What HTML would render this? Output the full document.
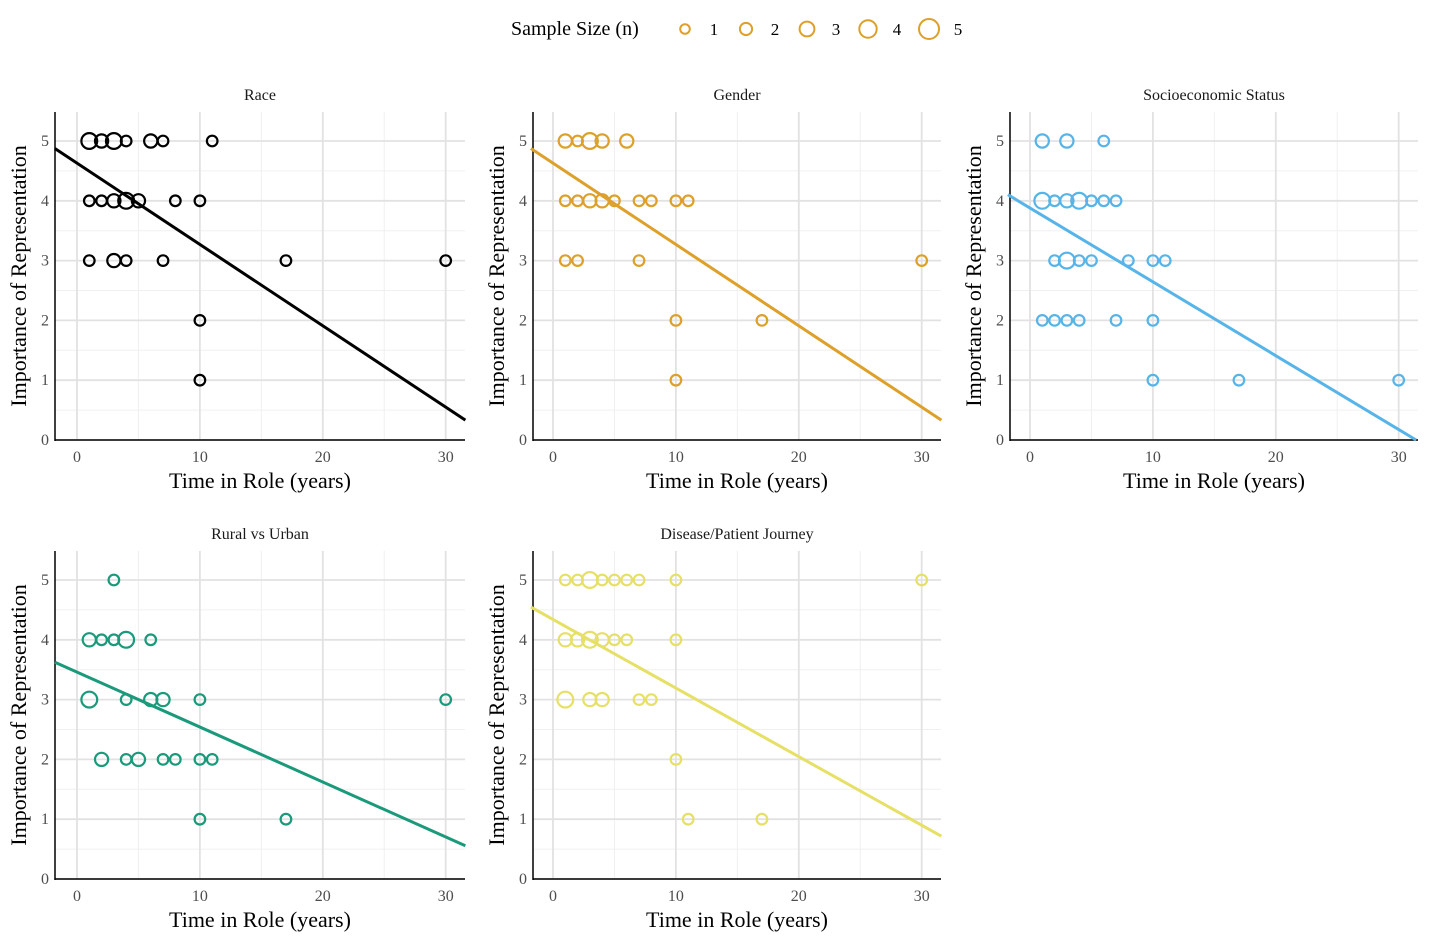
<!DOCTYPE html>
<html><head><meta charset="utf-8"><style>
body{margin:0;background:#fff;}
svg{display:block;font-family:"Liberation Serif",serif;}
</style></head><body>
<svg id="chart" width="1430" height="944" viewBox="0 0 1430 944"></svg>
<script>
const panelTitles=["Race","Gender","Socioeconomic Status","Rural vs Urban","Disease/Patient Journey"];
const panelColors=["#000000","#DDA02A","#56B4E9","#1A9A7A","#E6E066"];
// points: [time, importance, n]
const racePts=[[1,5,3],[2,5,2],[3,5,3],[4,5,1],[6,5,2],[7,5,1],[11,5,1],[1,4,1],[2,4,1],[3,4,2],[4,4,3],[5,4,2],[8,4,1],[10,4,1],[1,3,1],[3,3,2],[4,3,1],[7,3,1],[17,3,1],[30,3,1],[10,2,1],[10,1,1]];
const genderPts=[[1,5,2],[2,5,1],[3,5,3],[4,5,2],[6,5,2],[1,4,1],[2,4,1],[3,4,2],[4,4,2],[5,4,1],[7,4,1],[8,4,1],[10,4,1],[11,4,1],[1,3,1],[2,3,1],[7,3,1],[30,3,1],[10,2,1],[17,2,1],[10,1,1]];
const sesPts=[[1,5,2],[3,5,2],[6,5,1],[1,4,3],[2,4,1],[3,4,2],[4,4,3],[5,4,1],[6,4,1],[7,4,1],[2,3,1],[3,3,3],[4,3,1],[5,3,1],[8,3,1],[10,3,1],[11,3,1],[1,2,1],[2,2,1],[3,2,1],[4,2,1],[7,2,1],[10,2,1],[10,1,1],[17,1,1],[30,1,1]];
const ruralPts=[[3,5,1],[1,4,2],[2,4,1],[3,4,1],[4,4,3],[6,4,1],[1,3,3],[4,3,1],[6,3,2],[7,3,2],[10,3,1],[30,3,1],[2,2,2],[4,2,1],[5,2,2],[7,2,1],[8,2,1],[10,2,1],[11,2,1],[10,1,1],[17,1,1]];
const diseasePts=[[1,5,1],[2,5,1],[3,5,3],[4,5,1],[5,5,1],[6,5,1],[7,5,1],[10,5,1],[30,5,1],[1,4,2],[2,4,2],[3,4,3],[4,4,2],[5,4,1],[6,4,1],[10,4,1],[1,3,3],[3,3,2],[4,3,2],[7,3,1],[8,3,1],[10,2,1],[11,1,1],[17,1,1]];
const intercepts=[4.63,4.63,3.88,3.46,4.34];
const slopes=[-0.136,-0.136,-0.1235,-0.0919,-0.1147];
const xTicks=[0,10,20,30];
const yTicks=[0,1,2,3,4,5];
const legendSizes=[1,2,3,4,5];
const allPts=[racePts,genderPts,sesPts,ruralPts,diseasePts];

const NS="http://www.w3.org/2000/svg";
const svg=document.getElementById('chart');
function mk(tag,attrs,parent){const e=document.createElementNS(NS,tag);for(const k in attrs)e.setAttribute(k,attrs[k]);(parent||svg).appendChild(e);return e;}
function rad(n){return 4+1.3*n;}
const panels=[{l:55,r:465,t:112,b:440,x0:77},{l:533,r:941,t:112,b:440,x0:553},{l:1010,r:1418,t:112,b:440,x0:1030},{l:55,r:465,t:551,b:879,x0:77},{l:533,r:941,t:551,b:879,x0:553}];
const pxYr=12.29, pxUnit=59.8, xMin=-1.8, xMax=31.6;

const lg=mk('g',{});


const lt=mk('text',{x:511,y:35,'font-size':20,fill:'#000'},lg);lt.textContent='Sample Size (n)';


legendSizes.forEach((n,i)=>{
  const cx=685+i*61;
  const c=mk('circle',{cx:cx,cy:29,r:rad(n)-0.5,fill:'none',stroke:'#DDA02A','stroke-width':2},lg);
  
  
  const t=mk('text',{x:cx+29,y:35,'font-size':17,fill:'#000','text-anchor':'middle'},lg);t.textContent=n;
});

panels.forEach((p,pi)=>{
  const g=mk('g',{});
  
  
  const sx=v=>p.x0+v*pxYr, sy=v=>p.b-v*pxUnit;
  [5,15,25].forEach(v=>mk('line',{x1:sx(v),x2:sx(v),y1:p.t,y2:p.b,stroke:'#f0f0f0','stroke-width':1},g));
  [0.5,1.5,2.5,3.5,4.5].forEach(v=>mk('line',{x1:p.l,x2:p.r,y1:sy(v),y2:sy(v),stroke:'#f0f0f0','stroke-width':1},g));
  xTicks.forEach(v=>{mk('line',{x1:sx(v),x2:sx(v),y1:p.t,y2:p.b,stroke:'#e2e2e2','stroke-width':1.8},g);
    const t=mk('text',{x:sx(v),y:p.b+22,'font-size':16,fill:'#4d4d4d','text-anchor':'middle'},g);t.textContent=v;});
  yTicks.forEach(v=>{mk('line',{x1:p.l,x2:p.r,y1:sy(v),y2:sy(v),stroke:'#e2e2e2','stroke-width':1.8},g);
    const t=mk('text',{x:p.l-6,y:sy(v)+5,'font-size':16,fill:'#4d4d4d','text-anchor':'end'},g);t.textContent=v;});
  mk('line',{x1:p.l,x2:p.l,y1:p.t,y2:p.b+1,stroke:'#000','stroke-width':1.5},g);
  mk('line',{x1:p.l,x2:p.r,y1:p.b,y2:p.b,stroke:'#000','stroke-width':1.5},g);
  const tt=mk('text',{x:(p.l+p.r)/2,y:p.t-12,'font-size':16,fill:'#1a1a1a','text-anchor':'middle'},g);tt.textContent=panelTitles[pi];
  
  
  const xt=mk('text',{x:(p.l+p.r)/2,y:p.b+48,'font-size':22,fill:'#000','text-anchor':'middle'},g);xt.textContent='Time in Role (years)';
  
  
  const yc=(p.t+p.b)/2;
  const yt=mk('text',{x:p.l-29,y:yc,'font-size':22,fill:'#000','text-anchor':'middle',transform:`rotate(-90 ${p.l-29} ${yc})`},g);yt.textContent='Importance of Representation';
  
  
  const col=panelColors[pi];
  allPts[pi].forEach(d=>{
    const c=mk('circle',{cx:sx(d[0]),cy:sy(d[1]),r:rad(d[2]),fill:'none',stroke:col,'stroke-width':2.2},g);
    
    
  });
  let x2=xMax, y2=intercepts[pi]+slopes[pi]*xMax;
  if(y2<0){x2=-intercepts[pi]/slopes[pi];y2=0;}
  const ln=mk('line',{x1:sx(xMin),y1:sy(intercepts[pi]+slopes[pi]*xMin),x2:sx(x2),y2:sy(y2),stroke:col,'stroke-width':3},g);
  
  
});
</script>
</body></html>
